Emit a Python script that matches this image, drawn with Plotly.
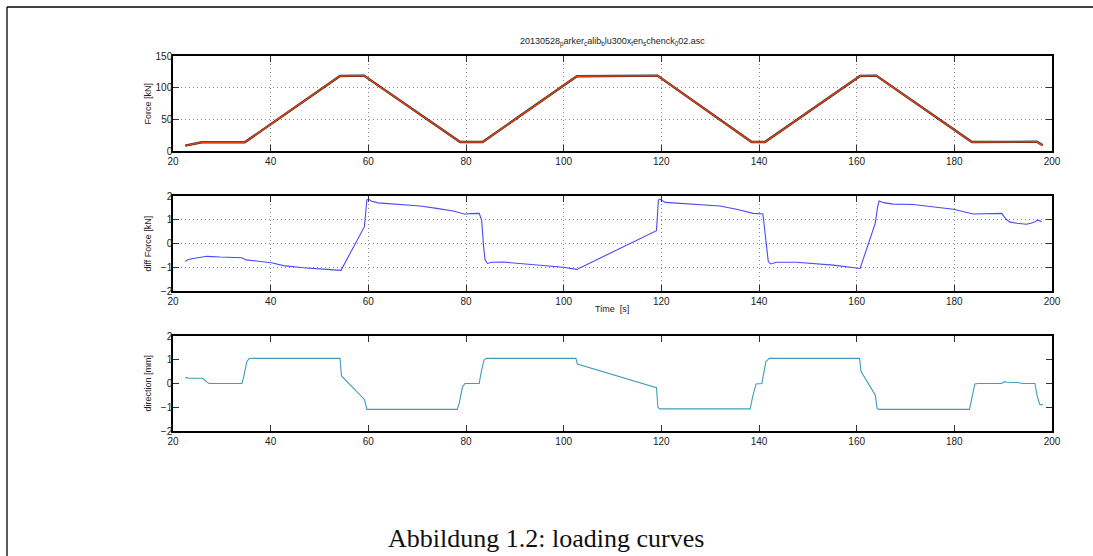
import plotly.graph_objects as go

# ---- data ----
force_t = [22.5, 25.9, 34.7, 54.2, 59.1, 78.8, 83.4, 102.7, 119.2, 138.5, 141.2,
           160.7, 164.0, 183.6, 196.9, 198.1]
force_v = [8.4, 13.7, 13.7, 118.4, 119.0, 14.2, 14.2, 118.0, 119.0, 14.2, 14.2,
           118.4, 119.0, 14.2, 14.5, 9.0]

diff_t = [22.5, 22.8, 23.8, 25.5, 27.0, 29.6, 34.1, 35.0, 37.8, 40.2, 42.6, 46.7, 51.5, 54.4,
          59.2, 59.7, 60.0, 60.7, 62.0, 65.1, 67.2, 70.6, 74.0, 77.4, 79.8, 80.8, 82.7,
          83.2, 83.6, 83.9, 84.4, 85.3, 87.6, 91.1, 95.2, 99.9, 102.7,
          119.0, 119.4, 119.7, 120.8, 123.8, 127.2, 132.0, 135.4, 138.8, 140.8,
          141.2, 141.9, 142.4, 143.6, 147.7, 151.1, 155.2, 160.7,
          163.8, 164.3, 164.6, 165.5, 167.5, 171.6, 175.7, 179.8, 183.9, 186.6, 189.7,
          190.6, 191.4, 192.8, 194.8, 196.2, 197.1, 197.9]
diff_v = [-0.76, -0.70, -0.64, -0.60, -0.54, -0.57, -0.60, -0.69, -0.75, -0.81, -0.93, -1.02, -1.09, -1.13,
          0.71, 1.83, 1.87, 1.78, 1.71, 1.66, 1.65, 1.58, 1.48, 1.37, 1.23, 1.26, 1.27,
          0.99, -0.13, -0.69, -0.84, -0.79, -0.78, -0.84, -0.91, -1.00, -1.09,
          0.54, 1.83, 1.87, 1.73, 1.69, 1.66, 1.58, 1.44, 1.27, 1.24,
          0.57, -0.76, -0.86, -0.79, -0.79, -0.84, -0.91, -1.05,
          0.85, 1.55, 1.79, 1.72, 1.66, 1.64, 1.55, 1.44, 1.24, 1.24, 1.27,
          1.02, 0.90, 0.85, 0.81, 0.88, 0.99, 0.92]

dir_t = [22.5, 22.8, 23.1, 26.1, 26.8, 27.4, 34.1, 34.5, 35.1, 35.6, 36.5, 54.2,
         54.5, 59.2, 59.7, 78.2, 78.6, 79.3, 79.8, 82.7, 83.2, 83.7, 84.2, 102.5,
         102.8, 119.0, 119.3, 119.7, 138.2, 138.7, 139.4, 140.6, 140.9, 141.4, 142.1,
         160.6, 160.9, 163.8, 164.2, 164.8, 183.1, 183.6, 184.2, 184.9, 189.7, 190.2,
         190.7, 192.8, 194.1, 196.5, 197.0, 197.5, 198.1]
dir_v = [0.22, 0.26, 0.22, 0.22, 0.08, 0.0, 0.0, 0.29, 0.92, 1.05, 1.06, 1.06,
         0.32, -0.67, -1.09, -1.09, -0.84, -0.13, 0.0, 0.0, 0.57, 0.99, 1.06, 1.06,
         0.82, -0.18, -1.00, -1.07, -1.07, -0.55, -0.02, 0.0, 0.36, 0.92, 1.06,
         1.06, 0.50, -0.48, -1.06, -1.09, -1.09, -0.55, -0.02, 0.0, 0.0, 0.08,
         0.05, 0.04, 0.0, 0.0, -0.55, -0.88, -0.90]

x_ticks = [20, 40, 60, 80, 100, 120, 140, 160, 180, 200]
force_ticks = [0, 50, 100, 150]
small_ticks = [-2, -1, 0, 1, 2]

title_text = ("20130528<sub>p</sub>arker<sub>c</sub>alib<sub>b</sub>lu300x<sub>t</sub>"
              "en<sub>s</sub>chenck<sub>0</sub>02.asc")
caption_text = "Abbildung 1.2: loading curves"

# ---- layout geometry (pixels) ----
W, H = 1093, 556
L, R, T, B = 173, 1052, 56, 431
pw, ph = R - L, B - T


def px(x):
    return (x - L) / pw


def py(y):
    return (B - y) / ph


fig = go.Figure()
fig.add_trace(go.Scatter(x=force_t, y=force_v, mode="lines",
                         line=dict(color="#2a2a2a", width=2.4), xaxis="x", yaxis="y",
                         showlegend=False))
fig.add_trace(go.Scatter(x=force_t, y=force_v, mode="lines",
                         line=dict(color="#e8400e", width=1.4), xaxis="x", yaxis="y",
                         showlegend=False))
fig.add_trace(go.Scatter(x=diff_t, y=diff_v, mode="lines",
                         line=dict(color="#4a4af5", width=1.1), xaxis="x2", yaxis="y2",
                         showlegend=False))
fig.add_trace(go.Scatter(x=dir_t, y=dir_v, mode="lines",
                         line=dict(color="#3f9cbc", width=1.1), xaxis="x3", yaxis="y3",
                         showlegend=False))

tickfont = dict(family="Liberation Sans, Arial, sans-serif", size=10, color="#222")

common_axis = dict(showline=True, linecolor="#000", linewidth=1.5, mirror="ticks",
                   ticks="inside", ticklen=6, tickcolor="#333", tickwidth=1,
                   tickfont=tickfont, zeroline=False,
                   gridcolor="#888", griddash="1px,3px", gridwidth=1)

domains = [(py(151), py(56)), (py(291), py(196)), (py(431), py(336))]
grids = [True, True, False]
yranges = [[0, 150], [-2, 2], [-2, 2]]
yticks = [force_ticks, small_ticks, small_ticks]

layout = dict(width=W, height=H, margin=dict(l=L, r=W - R, t=T, b=H - B),
              paper_bgcolor="white", plot_bgcolor="white", showlegend=False)
for i in range(3):
    sx = "" if i == 0 else str(i + 1)
    layout["xaxis" + sx] = dict(common_axis, range=[20, 200], tickvals=x_ticks,
                                showgrid=grids[i], anchor="y" + sx, domain=[0, 1])
    layout["yaxis" + sx] = dict(common_axis, range=yranges[i], tickvals=yticks[i],
                                showgrid=grids[i], anchor="x" + sx,
                                domain=list(domains[i]), ticklabelstandoff=-3)
fig.update_layout(**layout)

labfont = dict(family="Liberation Sans, Arial, sans-serif", size=9, color="#222")
ylabels = ["Force [kN]", "diff Force [kN]", "direction [mm]"]
ycent = [(56 + 151) / 2, (196 + 291) / 2, (336 + 431) / 2]
for lab, yc in zip(ylabels, ycent):
    fig.add_annotation(text=lab, xref="paper", yref="paper", x=px(147), y=py(yc),
                       textangle=-90, showarrow=False, font=labfont,
                       xanchor="center", yanchor="middle")

fig.add_annotation(text="Time  [s]", xref="paper", yref="paper", x=px(612), y=py(309),
                   showarrow=False, font=labfont, xanchor="center", yanchor="middle")
fig.add_annotation(text=title_text, xref="paper", yref="paper", x=px(612), y=py(42),
                   showarrow=False, font=labfont, xanchor="center", yanchor="middle")
fig.add_annotation(text=caption_text, xref="paper", yref="paper", x=px(546), y=py(538),
                   showarrow=False,
                   font=dict(family="Liberation Serif, DejaVu Serif, serif", size=26,
                             color="#111"),
                   xanchor="center", yanchor="middle")

# page border (top and left)
fig.add_shape(type="line", xref="paper", yref="paper", x0=px(7), x1=px(1093),
              y0=py(7), y1=py(7), line=dict(color="#000", width=1.3))
fig.add_shape(type="line", xref="paper", yref="paper", x0=px(7), x1=px(7),
              y0=py(7), y1=py(556), line=dict(color="#000", width=1.3))

fig.write_html("out.html", config={"displayModeBar": False},
               post_script="document.body.style.margin='0px';"
                           "document.body.style.overflow='hidden';")
